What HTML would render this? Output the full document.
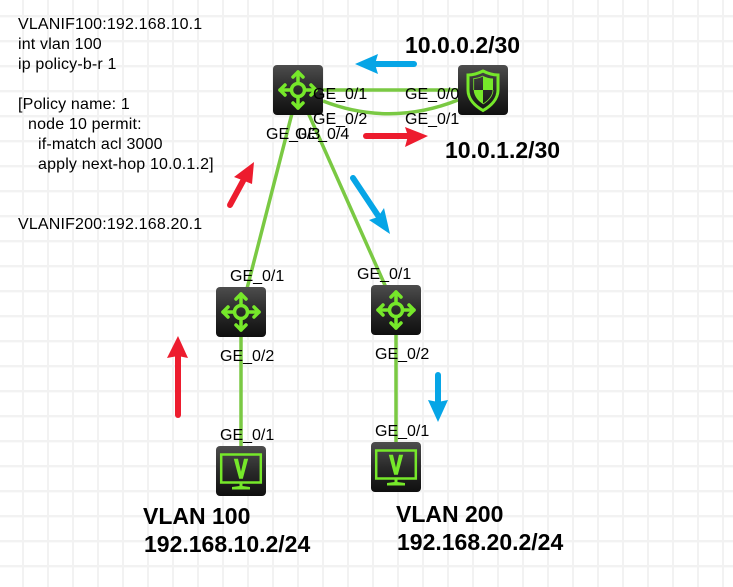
<!DOCTYPE html>
<html><head><meta charset="utf-8"><style>
html,body{margin:0;padding:0;background:#fff}
svg{display:block}
text{font-family:"Liberation Sans",sans-serif;font-size:16px;fill:#000;white-space:pre}
.t{letter-spacing:.17px}
.b{font-weight:bold;font-size:23px}
</style></head><body>
<svg width="733" height="587" viewBox="0 0 733 587" xmlns="http://www.w3.org/2000/svg">
<defs>
<pattern id="g" width="25" height="25" patternUnits="userSpaceOnUse">
<rect x="22" y="0" width="2" height="25" fill="#f2f2f2"/>
<rect x="0" y="15" width="25" height="2.4" fill="#f2f2f2"/>
</pattern>
<linearGradient id="k" x1="0" y1="0" x2="0" y2="1"><stop offset="0" stop-color="#4d4d4d"/><stop offset="0.5" stop-color="#2a2a2a"/><stop offset="1" stop-color="#0f0f0f"/></linearGradient>
<g id="sw">
<rect width="50" height="50" rx="4" fill="url(#k)"/>
<g fill="none" stroke="#76e82a" stroke-width="3.500" stroke-linejoin="round" stroke-linecap="round">
<circle cx="25" cy="25" r="6.500"/>
<path d="M25 18V7M25 32V43M18 25H7M32 25H43"/>
<path d="M20 12L25 7L30 12M20 38L25 43L30 38M12 20L7 25L12 30M38 20L43 25L38 30"/>
</g>
</g>
<g id="pc">
<rect width="50" height="50" rx="4" fill="url(#k)"/>
<rect x="5.200" y="8.500" width="39.600" height="28" fill="none" stroke="#76e82a" stroke-width="2.500"/>
<text transform="translate(25 32) scale(.72 1)" text-anchor="middle" style="font-size:27px;font-weight:bold;fill:#76e82a;stroke:#76e82a;stroke-width:1.6">V</text>
<path d="M23.500 37H26.500V40L34 41V43.500H16V41L23.500 40Z" fill="#76e82a"/>
</g>
</defs>
<rect width="733" height="587" fill="url(#g)"/>

<g fill="none" stroke="#7ac943" stroke-width="3.500">
<path d="M298 90H483"/>
<path d="M323 101Q390 127 458 100"/>
<path d="M298 90L241 312V471"/>
<path d="M298 90L396 310V467"/>
</g>

<use href="#sw" x="273" y="65"/>
<use href="#sw" x="216" y="287"/>
<use href="#sw" x="371" y="285"/>
<use href="#pc" x="216" y="446"/>
<use href="#pc" x="371" y="442"/>

<g transform="translate(458 65)">
<rect width="50" height="50" rx="4" fill="url(#k)"/>
<path d="M25 6C31 9 36 10 40 10V25C40 34 33 41 25 45.500C17 41 10 34 10 25V10C14 10 19 9 25 6Z" fill="none" stroke="#76e82a" stroke-width="3"/>
<path d="M25 11C28 12.500 32 13.500 35 13.500V25H25ZM25 25V39C20 36 16 31 15.700 25Z" fill="#76e82a"/>
<path d="M25 11C22 12.500 18 13.500 15.700 13.500V25M35 25C35 31 30 36 25 39" fill="none" stroke="#76e82a" stroke-width=".8"/>
</g>

<!-- arrows -->
<g fill="none" stroke-width="6" stroke-linecap="round">
<path d="M414 64H372" stroke="#06a5e6"/>
<path d="M366 136H410" stroke="#ed1c2e"/>
<path d="M230 205L243 181" stroke="#ed1c2e"/>
<path d="M178 415V354" stroke="#ed1c2e"/>
<path d="M353 178L379 217" stroke="#06a5e6"/>
<path d="M438 375V404" stroke="#06a5e6"/>
</g>
<path d="M355 64L378 54L375 64L378 74Z" fill="#06a5e6"/>
<path d="M428 136L405 127L408 136L405 147Z" fill="#ed1c2e"/>
<path d="M254 162L234 177L242 180L252 184Z" fill="#ed1c2e"/>
<path d="M178 336L167 358L178 356L188 358Z" fill="#ed1c2e"/>
<path d="M390 234L369 220L378 217L384 208Z" fill="#06a5e6"/>
<path d="M438 422L428 400L438 402L448 400Z" fill="#06a5e6"/>

<!-- text -->
<text class="t" x="18" y="29">VLANIF100:192.168.10.1</text>
<text class="t" x="18" y="49">int vlan 100</text>
<text class="t" x="18" y="69">ip policy-b-r 1</text>
<text class="t" x="18" y="109">[Policy name: 1</text>
<text class="t" x="28" y="129">node 10 permit:</text>
<text class="t" x="38" y="149">if-match acl 3000</text>
<text class="t" x="38" y="169">apply next-hop 10.0.1.2]</text>
<text class="t" x="18" y="229">VLANIF200:192.168.20.1</text>

<text x="313" y="99">GE_0/1</text>
<text x="405" y="99">GE_0/0</text>
<text x="313" y="124">GE_0/2</text>
<text x="405" y="124">GE_0/1</text>
<text x="266" y="139">GE_0/3</text>
<text x="295" y="139">GE_0/4</text>
<text x="230" y="281">GE_0/1</text>
<text x="220" y="361">GE_0/2</text>
<text x="220" y="440">GE_0/1</text>
<text x="357" y="279">GE_0/1</text>
<text x="375" y="359">GE_0/2</text>
<text x="375" y="436">GE_0/1</text>

<text class="b" x="405" y="53">10.0.0.2/30</text>
<text class="b" x="445" y="158">10.0.1.2/30</text>
<text class="b" x="143" y="524">VLAN 100</text>
<text class="b" x="144" y="552">192.168.10.2/24</text>
<text class="b" x="396" y="522">VLAN 200</text>
<text class="b" x="397" y="550">192.168.20.2/24</text>
</svg>
</body></html>
